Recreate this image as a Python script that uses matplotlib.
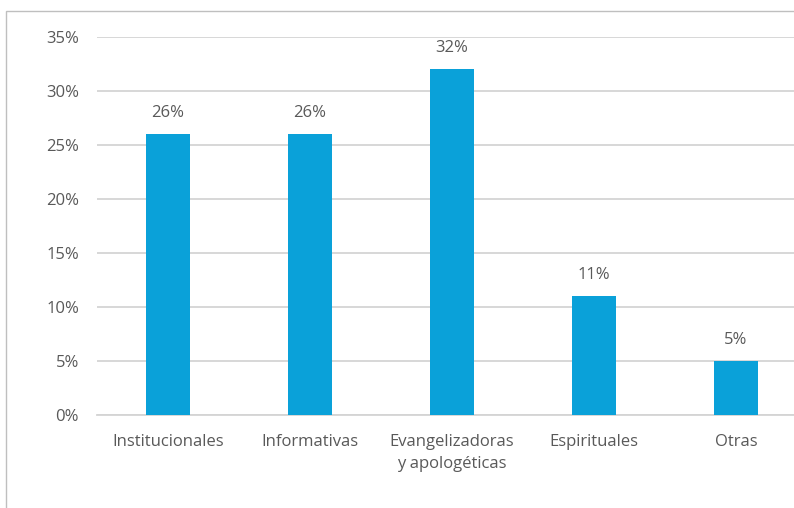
import matplotlib.pyplot as plt
from matplotlib.patches import Rectangle

categorias = ['Institucionales', 'Informativas', 'Evangelizadoras\ny apologéticas',
              'Espirituales', 'Otras']
valores = [0.26, 0.26, 0.32, 0.11, 0.05]
etiquetas = ['26%', '26%', '32%', '11%', '5%']
ticks_y = [0, 0.05, 0.10, 0.15, 0.20, 0.25, 0.30, 0.35]
ticks_lbl = ['0%', '5%', '10%', '15%', '20%', '25%', '30%', '35%']

plt.rcParams['font.family'] = ['Open Sans', 'DejaVu Sans']
gris = '#595959'
fs = 12

fig = plt.figure(figsize=(7.94, 5.08), dpi=100)
fig.patches.append(Rectangle((6 / 794, -0.1), 1.2, 1.1 - 11 / 508,
                             transform=fig.transFigure, fill=False,
                             edgecolor='#BFBFBF', linewidth=1.0))
ax = fig.add_axes([97 / 794, 1 - 415 / 508, 710 / 794, (415 - 37) / 508])

x = range(len(categorias))
ax.bar(x, valores, width=0.31, color='#0AA1D9', zorder=3)
for i, v in enumerate(valores):
    ax.text(i, v + 0.012, etiquetas[i], ha='center', va='bottom',
            fontsize=fs, color=gris)

ax.set_xlim(-0.5, len(categorias) - 0.5)
ax.set_ylim(0, 0.35)
ax.set_yticks(ticks_y)
ax.set_yticklabels(ticks_lbl, fontsize=fs, color=gris)
ax.set_xticks(list(x))
ax.set_xticklabels(categorias, fontsize=fs, color=gris, linespacing=1.45, va='top')
ax.tick_params(axis='both', length=0)
ax.tick_params(axis='y', pad=13)
ax.tick_params(axis='x', pad=14)
ax.grid(axis='y', color='#D4D4D4', linewidth=1.3, zorder=0)
for s in ['top', 'right', 'left']:
    ax.spines[s].set_visible(False)
ax.spines['bottom'].set_color('#D4D4D4')
ax.spines['bottom'].set_linewidth(1.3)

fig.savefig('out.png', dpi=100)
